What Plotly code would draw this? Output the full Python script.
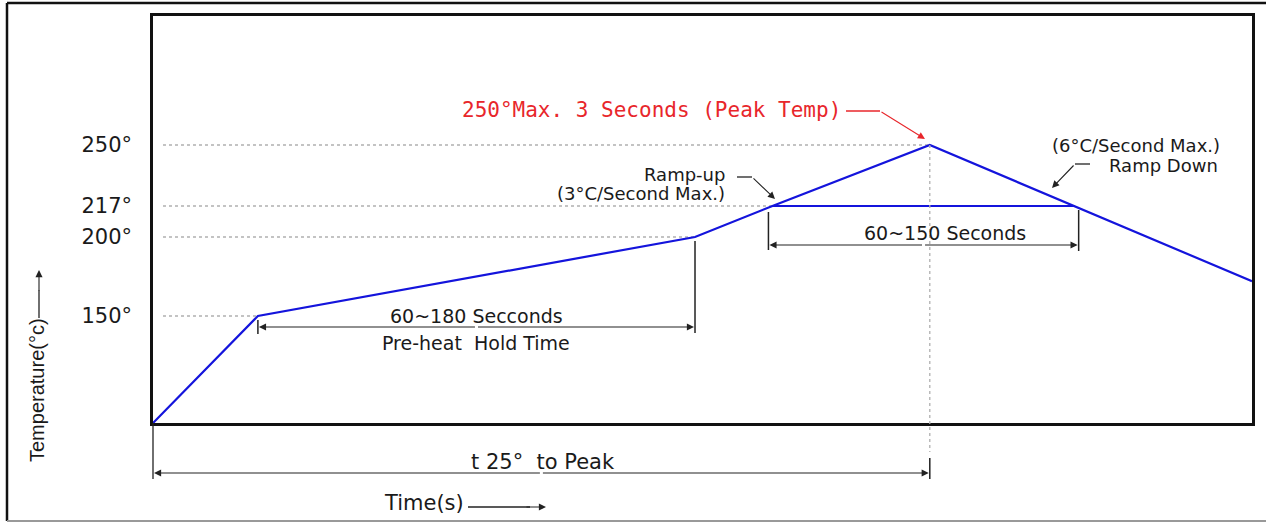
import numpy as np
import plotly.graph_objects as go

# ---------------- data ----------------
# reflow profile (schematic): time in seconds (diagram units), temperature in °C
time_s = [0, 42, 217, 248, 311, 369, 440]
temp_c = [25, 150, 200, 217, 250, 217, 172]

# temperature tick labels
tick_temps = [150, 200, 217, 250]
tick_text = ["150°", "200°", "217°", "250°"]

# schematic (non-linear) temperature scale of the drawing: anchors temp -> level
scale_temp = [25, 150, 200, 217, 250, 330]
scale_level = [0, 107, 186, 217, 278, 407]

# ---------------- geometry ----------------
W, H = 1266, 523
L, R, T, B = 153, 1252, 16, 423          # plot-area pixel box
XMAX, YMAX = 440, 407


def lvl(t):
    return float(np.interp(t, scale_temp, scale_level))


def xpix(t):
    return L + t / XMAX * (R - L)


def ypix(temp):
    return B - lvl(temp) / YMAX * (B - T)


def P(x, y):
    """pixel -> paper"""
    return (x - L) / (R - L), (B - y) / (B - T)


levels = [lvl(t) for t in temp_c]

fig = go.Figure()

# dotted guide lines from axis to the profile
for tt in tick_temps:
    i = temp_c.index(tt)
    fig.add_trace(go.Scatter(x=[4, time_s[i]], y=[lvl(tt), lvl(tt)], mode="lines",
                             line=dict(color="#b0b0b0", width=1.5, dash="dot"),
                             hoverinfo="skip", showlegend=False))

# soak plateau at 217°
i217 = [i for i, t in enumerate(temp_c) if t == 217]
fig.add_trace(go.Scatter(x=[time_s[i217[0]], time_s[i217[1]]], y=[lvl(217), lvl(217)],
                         mode="lines", line=dict(color="#1414dc", width=2),
                         hoverinfo="skip", showlegend=False))

# profile
fig.add_trace(go.Scatter(x=time_s, y=levels, mode="lines",
                         line=dict(color="#1414dc", width=2.2),
                         hoverinfo="skip", showlegend=False))

shapes = []
ann = []


def seg(x0, y0, x1, y1, color="#222", width=1.2, dash=None):
    a0, b0 = P(x0, y0)
    a1, b1 = P(x1, y1)
    d = dict(type="line", xref="paper", yref="paper", x0=a0, y0=b0, x1=a1, y1=b1,
             line=dict(color=color, width=width))
    if dash:
        d["line"]["dash"] = dash
    shapes.append(d)


def arrow(xh, yh, xt, yt, color="#222", size=1.3):
    a, b = P(xh, yh)
    ann.append(dict(xref="paper", yref="paper", x=a, y=b, ax=xt - xh, ay=yt - yh,
                    axref="pixel", ayref="pixel", text="", showarrow=True,
                    arrowhead=2, arrowsize=size, arrowwidth=1.1, arrowcolor=color,
                    standoff=0, startstandoff=0))


def dim(x0, x1, y):
    m = (x0 + x1) / 2
    arrow(x0 + 1, y, m, y)
    arrow(x1 - 1, y, m, y)


def text(x, y, s, size=19, color="#1a1a1a", anchor="center", family="DejaVu Sans", angle=0):
    a, b = P(x, y)
    ann.append(dict(xref="paper", yref="paper", x=a, y=b, text=s, showarrow=False,
                    xanchor=anchor, yanchor="middle", textangle=angle,
                    font=dict(size=size, color=color, family=family)))


# outer frame
seg(7, 3, 1266, 3, color="#111", width=2.5)
seg(7, 3, 7, 521, color="#111", width=2.5)
seg(7, 521, 1266, 521, color="#999", width=2)

# peak vertical dotted line
xpk = xpix(time_s[4])
seg(xpk, ypix(250), xpk, 452, color="#b0b0b0", width=1.3, dash="dot")

# t 25° to Peak dimension
seg(L, B, L, 479, width=1.3)
seg(xpk, 458, xpk, 479, width=1.5)
dim(L, xpk, 473)
text((L + xpk) / 2 + 2, 462, "t 25°  to Peak", size=21)

# pre-heat dimension
x150 = xpix(time_s[1])
x200 = xpix(time_s[2])
seg(x150, 320, x150, 334, width=1.5)
seg(x200, ypix(200) + 4, x200, 333, width=1.5)
dim(x150, x200, 327)
text((x150 + x200) / 2, 316, "60~180 Secconds", size=19)
text((x150 + x200) / 2, 343, "Pre-heat  Hold Time", size=19)

# time above liquidus dimension
xa = xpix(time_s[3]) - 4
xb = xpix(time_s[5]) + 4
seg(xa, 212, xa, 250, width=1.5)
seg(xb, 210, xb, 251, width=1.5)
dim(xa, xb, 245)
text(945, 233, "60~150 Seconds", size=19)

# peak label (red)
text(843, 110, "250°Max. 3 Seconds (Peak Temp)", size=21, color="#e8262b",
     anchor="right", family="DejaVu Sans Mono")
seg(846, 111, 880, 111, color="#e8262b", width=1.3)
arrow(925, 139, 880, 111, color="#e8262b")

# ramp-up label
text(727, 175, "Ramp-up", size=18, anchor="right")
text(727, 194, "(3°C/Second Max.)", size=18, anchor="right")
seg(737, 177, 752, 177, width=1.3)
arrow(775, 199, 752, 177)

# ramp-down label
text(1136, 145, "(6°C/Second Max.)", size=18)
text(1163, 165, "Ramp Down", size=18)
seg(1090, 164, 1075, 164, width=1.3)
arrow(1052, 188, 1075, 164)

# axis titles with arrows
text(382, 503, "Time(s)", size=21, anchor="left")
seg(468, 507, 530, 507, width=1.3)
arrow(546, 507, 525, 507)
text(37, 390, "Temperature(°c)", size=20, family="Liberation Sans", angle=-90)
seg(39, 318, 39, 290, width=1.3)
arrow(39, 270, 39, 292)

fig.update_layout(
    width=W, height=H,
    margin=dict(l=L, r=W - R, t=T, b=H - B),
    paper_bgcolor="white", plot_bgcolor="white",
    shapes=shapes, annotations=ann,
    xaxis=dict(range=[0, XMAX], showgrid=False, zeroline=False, showticklabels=False,
               ticks="", showline=True, mirror=True, linecolor="#111", linewidth=2.5),
    yaxis=dict(range=[0, YMAX], showgrid=False, zeroline=False,
               tickvals=[lvl(t) for t in tick_temps], ticktext=tick_text,
               ticks="", ticklabelstandoff=14,
               tickfont=dict(size=21, family="DejaVu Sans", color="#1a1a1a"),
               showline=True, mirror=True, linecolor="#111", linewidth=2.5),
)

fig.write_html("out.html", config={"displayModeBar": False},
               post_script="document.body.style.margin='0';document.body.style.overflow='hidden';")
